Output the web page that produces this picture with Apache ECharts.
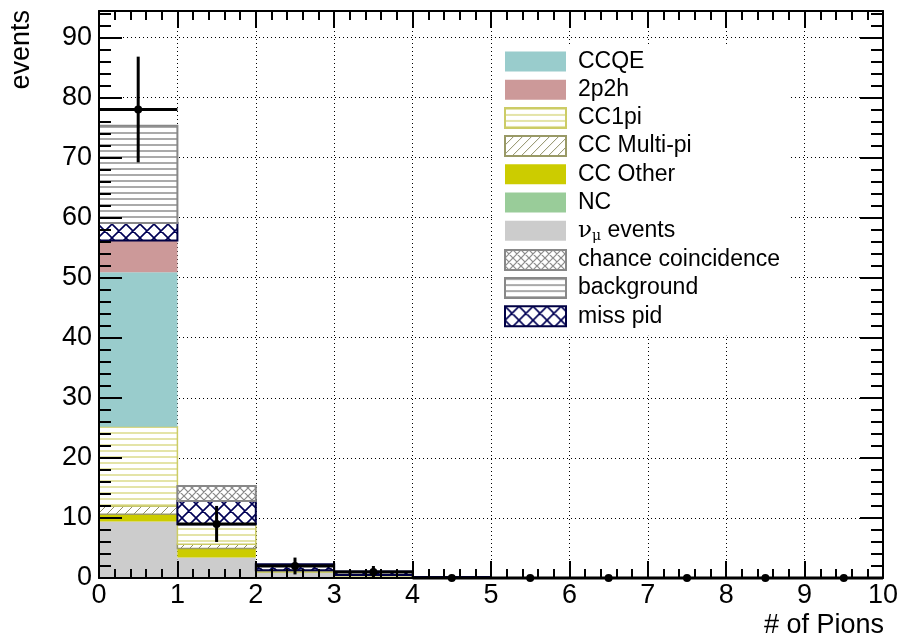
<!DOCTYPE html>
<html>
<head>
<meta charset="utf-8">
<script src="https://cdn.jsdelivr.net/npm/echarts@6/dist/echarts.min.js"></script>
<style>html,body{margin:0;padding:0;background:#fff;}#c{width:904px;height:640px;}</style>
</head>
<body>
<div id="c"></div>
<script>
// ---- data ----
const binCenters = [0.5, 1.5, 2.5, 3.5, 4.5, 5.5, 6.5, 7.5, 8.5, 9.5];
const numuEvents = [9.4, 3.4, 0.9, 0.3, 0, 0, 0, 0, 0, 0];
const ncEvents   = [0, 0, 0, 0, 0, 0, 0, 0, 0, 0];
const ccOther    = [1.2, 1.5, 0.2, 0.1, 0, 0, 0, 0, 0, 0];
const ccMultiPi  = [1.4, 0.7, 0.05, 0, 0, 0, 0, 0, 0, 0];
const cc1pi      = [13.2, 3.35, 0.15, 0.1, 0, 0, 0, 0, 0, 0];
const ccqe       = [25.7, 0, 0, 0, 0, 0, 0, 0, 0, 0];
const twoP2h     = [5.3, 0, 0, 0, 0, 0, 0, 0, 0, 0];
const missPid    = [2.9, 3.85, 1.0, 0.6, 0.15, 0, 0, 0, 0, 0];
const background = [16.2, 0, 0, 0, 0, 0, 0, 0, 0, 0];
const chanceCoin = [0, 2.5, 0, 0, 0, 0, 0, 0, 0, 0];
const dataCounts = [78, 9, 2, 1, 0, 0, 0, 0, 0, 0];
const dataErrors = [8.8, 3.0, 1.4, 1.0, 0, 0, 0, 0, 0, 0];
const xTicks = [0, 1, 2, 3, 4, 5, 6, 7, 8, 9, 10];
const yTicks = [0, 10, 20, 30, 40, 50, 60, 70, 80, 90];
const binHalfWidth = 0.5;

const FONT = 'Liberation Sans, Arial, Helvetica, sans-serif';

// ---- fill patterns ----
function pat(w, h, draw) {
  const c = document.createElement('canvas');
  c.width = w; c.height = h;
  const g = c.getContext('2d');
  g.fillStyle = '#fff'; g.fillRect(0, 0, w, h);
  draw(g, w, h);
  return { image: c, repeat: 'repeat' };
}
function hLines(color, period, thick) {
  return pat(8, period, (g, w) => { g.fillStyle = color; g.fillRect(0, 0, w, thick); });
}
function diag(color, p, lw, cross) {
  return pat(p, p, (g) => {
    g.strokeStyle = color; g.lineWidth = lw; g.beginPath();
    for (let k = -1; k <= 1; k++) {
      g.moveTo(k * p, p); g.lineTo(k * p + p, 0);
      if (cross) { g.moveTo(k * p, 0); g.lineTo(k * p + p, p); }
    }
    g.stroke();
  });
}

const styles = {
  'CCQE':               { color: '#99cccc', borderColor: '#99cccc', borderWidth: 0 },
  '2p2h':               { color: '#cc9999', borderColor: '#cc9999', borderWidth: 0 },
  'CC1pi':              { color: hLines('#e4e4a8', 6, 2), borderColor: '#cccc66', borderWidth: 1.5 },
  'CC Multi-pi':        { color: diag('#8f8f66', 9, 1, false), borderColor: '#999966', borderWidth: 1.5 },
  'CC Other':           { color: '#cccc00', borderColor: '#cccc00', borderWidth: 0 },
  'NC':                 { color: '#99cc99', borderColor: '#99cc99', borderWidth: 0 },
  'νμ events':          { color: '#cccccc', borderColor: '#cccccc', borderWidth: 0 },
  'chance coincidence': { color: diag('#888888', 8, 1.2, true), borderColor: '#888888', borderWidth: 2 },
  'background':         { color: hLines('#aaaaaa', 6, 2), borderColor: '#888888', borderWidth: 2 },
  'miss pid':           { color: diag('#000055', 14, 1.6, true), borderColor: '#000044', borderWidth: 2 }
};

// stacking order, bottom first
const stackOrder = [
  ['νμ events', numuEvents], ['NC', ncEvents], ['CC Other', ccOther], ['CC Multi-pi', ccMultiPi],
  ['CC1pi', cc1pi], ['CCQE', ccqe], ['2p2h', twoP2h], ['miss pid', missPid],
  ['background', background], ['chance coincidence', chanceCoin]
];
const legendOrder = ['CCQE', '2p2h', 'CC1pi', 'CC Multi-pi', 'CC Other', 'NC', 'νμ events',
  'chance coincidence', 'background', 'miss pid'];

// cumulative stacking of the histogram components
const running = binCenters.map(() => 0);
const barSeries = stackOrder.map(([name, vals]) => {
  const st = styles[name];
  const data = binCenters.map((x, i) => {
    const base = running[i];
    running[i] += vals[i];
    return [x, base, running[i], vals[i]];
  });
  return {
    name, type: 'custom', xAxisIndex: 0, yAxisIndex: 0, z: 2,
    itemStyle: { color: st.color, borderColor: st.borderColor, borderWidth: st.borderWidth },
    emphasis: { disabled: true },
    encode: { x: 0, y: 2 },
    data,
    renderItem: function (params, api) {
      const v = api.value(3);
      if (!(v > 0)) return null;
      const x = api.value(0);
      const p0 = api.coord([x - binHalfWidth, api.value(1)]);
      const p1 = api.coord([x + binHalfWidth, api.value(2)]);
      const bw = st.borderWidth;
      return {
        type: 'rect',
        shape: { x: p0[0], y: p1[1], width: p1[0] - p0[0], height: p0[1] - p1[1] },
        style: { fill: st.color, stroke: bw > 0 ? st.borderColor : null, lineWidth: bw }
      };
    }
  };
});

const dataSeries = {
  name: 'data', type: 'custom', xAxisIndex: 0, yAxisIndex: 0, clip: false, z: 6,
  data: binCenters.map((x, i) => [x, dataCounts[i], dataErrors[i]]),
  encode: { x: 0, y: 1 },
  renderItem: function (params, api) {
    const x = api.value(0), y = api.value(1), e = api.value(2);
    const c = api.coord([x, y]);
    const l = api.coord([x - binHalfWidth, y]);
    const r = api.coord([x + binHalfWidth, y]);
    const t = api.coord([x, y + e]);
    const b = api.coord([x, y - e]);
    const st = { stroke: '#000', lineWidth: 3, fill: null };
    const children = [
      { type: 'line', shape: { x1: l[0], y1: l[1], x2: r[0], y2: r[1] }, style: st },
      { type: 'circle', shape: { cx: c[0], cy: c[1], r: 4 }, style: { fill: '#000' } }
    ];
    if (e > 0) children.push({ type: 'line', shape: { x1: t[0], y1: t[1], x2: b[0], y2: b[1] }, style: st });
    return { type: 'group', children };
  }
};

function frameX(pos) {
  return {
    type: 'value', min: xTicks[0], max: xTicks[xTicks.length - 1], interval: 1, position: pos, z: 10,
    axisLine: { show: true, onZero: false, lineStyle: { color: '#000', width: 2 } },
    axisTick: { show: true, inside: true, length: 17, lineStyle: { color: '#000', width: 2 } },
    minorTick: { show: true, splitNumber: 5, length: 9, lineStyle: { color: '#000', width: 2 } },
    axisLabel: { show: false }, splitLine: { show: false }
  };
}
function frameY(pos) {
  return {
    type: 'value', min: yTicks[0], max: 94.4, interval: 10, position: pos, z: 10,
    axisLine: { show: true, onZero: false, lineStyle: { color: '#000', width: 2 } },
    axisTick: { show: true, inside: true, length: 23, lineStyle: { color: '#000', width: 2 } },
    minorTick: { show: true, splitNumber: 5, length: 12, lineStyle: { color: '#000', width: 2 } },
    axisLabel: { show: false }, splitLine: { show: false }
  };
}

const option = {
  animation: false,
  backgroundColor: '#fff',
  grid: { left: 99, right: 21, top: 11, bottom: 62, containLabel: false },
  xAxis: [
    {
      type: 'value', min: xTicks[0], max: xTicks[xTicks.length - 1], interval: 1, position: 'bottom', z: 0,
      axisLine: { show: false, onZero: false }, axisTick: { show: false },
      axisLabel: { fontSize: 27, color: '#000', fontFamily: FONT, margin: 4 },
      splitLine: { show: true, lineStyle: { color: '#000', type: [1, 3], width: 1 } }
    },
    frameX('bottom'), frameX('top')
  ],
  yAxis: [
    {
      type: 'value', min: yTicks[0], max: 94.4, interval: 10, position: 'left', z: 0,
      axisLine: { show: false, onZero: false }, axisTick: { show: false },
      axisLabel: { fontSize: 27, color: '#000', fontFamily: FONT, margin: 7, showMaxLabel: false },
      splitLine: { show: true, lineStyle: { color: '#000', type: [1, 3], width: 1 } }
    },
    frameY('left'), frameY('right')
  ],
  legend: {
    data: legendOrder, orient: 'vertical', left: 495, top: 44,
    icon: 'rect', itemWidth: 61, itemHeight: 20, itemGap: 5.2,
    padding: [6, 10, 8, 9], backgroundColor: '#fff', selectedMode: false,
    textStyle: {
      fontSize: 23, color: '#000', fontFamily: FONT, padding: [0, 0, 0, 7],
      rich: {
        nu: { fontFamily: 'DejaVu Serif', fontSize: 23, color: '#000' },
        mu: { fontFamily: 'DejaVu Serif', fontSize: 14, color: '#000', verticalAlign: 'bottom', padding: [11, 0, 0, 0] },
        t: { fontFamily: FONT, fontSize: 23, color: '#000' }
      }
    },
    formatter: function (name) {
      if (name === 'νμ events') return '{nu|ν}{mu|μ}{t| events}';
      return name;
    }
  },
  graphic: [
    { type: 'text', x: 22, y: 10, rotation: Math.PI / 2,
      style: { text: 'events', font: '27px ' + FONT, fill: '#000', align: 'right', verticalAlign: 'middle' } },
    { type: 'text', x: 884, y: 626,
      style: { text: '# of Pions', font: '27px ' + FONT, fill: '#000', align: 'right', verticalAlign: 'middle' } }
  ],
  series: barSeries.concat([dataSeries])
};

const chart = echarts.init(document.getElementById('c'), null, { renderer: 'canvas' });
chart.setOption(option);
</script>
</body>
</html>
